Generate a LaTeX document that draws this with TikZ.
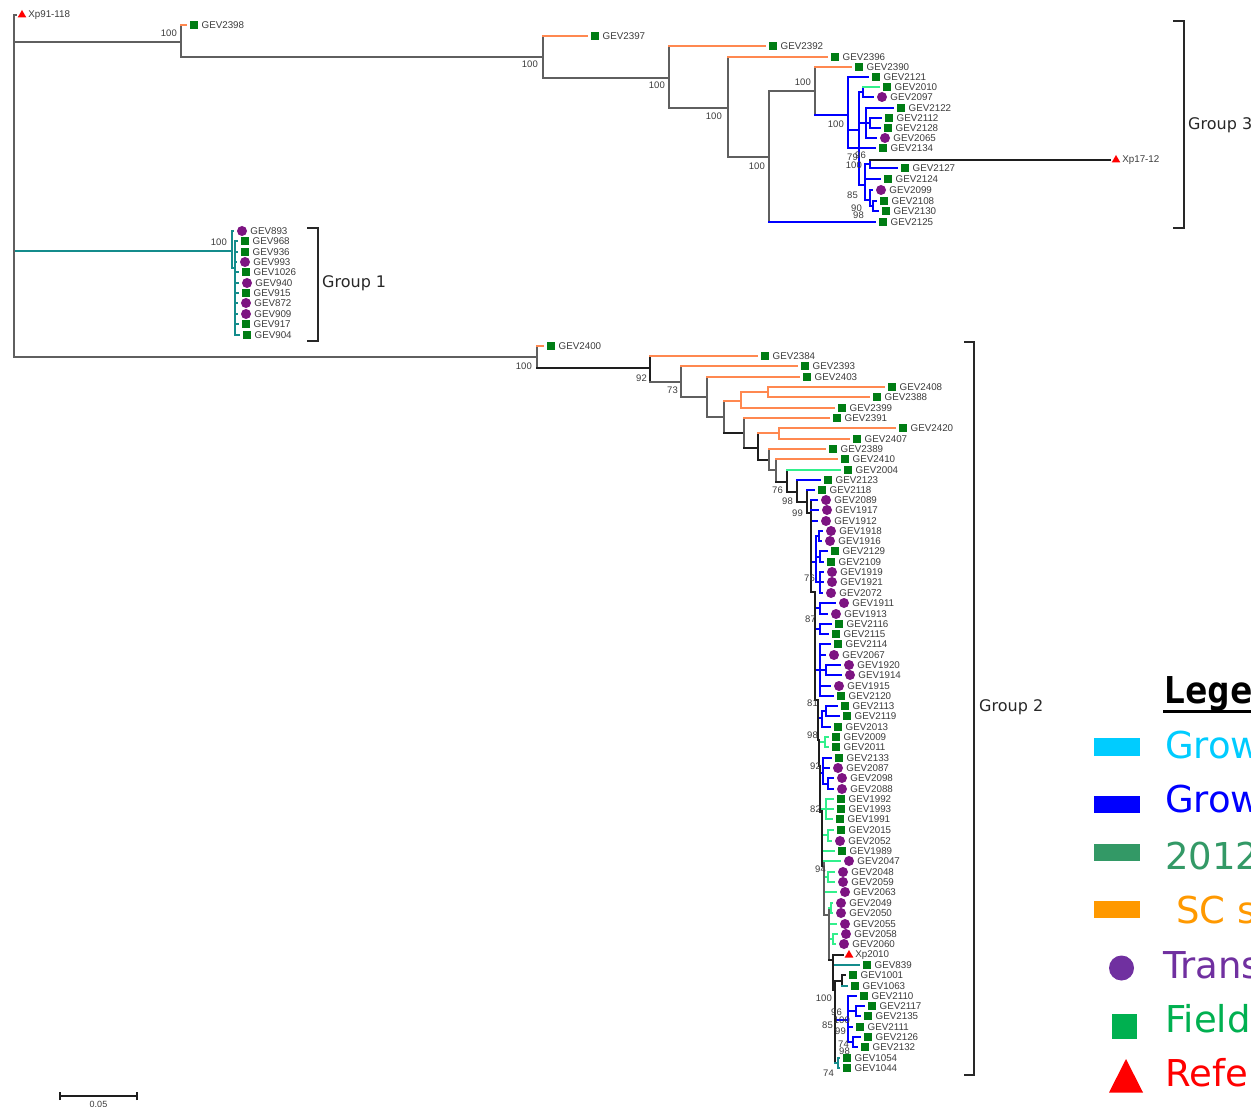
\documentclass[tikz,border=0pt]{standalone}
\usepackage{fontspec}
\setmainfont{Liberation Sans}
\newfontfamily\grpfont{DejaVu Sans}
\newfontfamily\legfont{DejaVu Sans}
\newfontfamily\legmono{DejaVu Sans Mono}
\usetikzlibrary{shapes.geometric}
\definecolor{cO}{RGB}{255,136,80}
\definecolor{cB}{RGB}{0,0,255}
\definecolor{cG}{RGB}{50,240,140}
\definecolor{cT}{RGB}{20,140,140}
\definecolor{cK}{RGB}{95,95,95}
\definecolor{cD}{RGB}{30,30,30}
\definecolor{mG}{RGB}{0,125,20}
\definecolor{mP}{RGB}{125,20,130}
\definecolor{tx}{RGB}{60,60,60}
\definecolor{tx2}{RGB}{40,40,40}
\definecolor{lCy}{RGB}{0,204,255}
\definecolor{lBl}{RGB}{0,0,255}
\definecolor{lSg}{RGB}{51,153,102}
\definecolor{lOr}{RGB}{255,153,0}
\definecolor{lPu}{RGB}{112,48,160}
\definecolor{lGr}{RGB}{0,176,80}
\definecolor{lRe}{RGB}{255,0,0}
\tikzset{
 tb/.style={line width=1.3pt, line cap=rect},
 sqm/.style={rectangle, fill=mG, minimum size=8.5pt, inner sep=0pt},
 cim/.style={circle, fill=mP, minimum size=10pt, inner sep=0pt},
 trm/.style={regular polygon, regular polygon sides=3, fill=red, minimum size=10pt, inner sep=0pt},
 lbl/.style={font=\fontsize{9.8}{10}\selectfont, text=tx, anchor=west, inner sep=0pt},
 bs/.style={font=\fontsize{9.5}{10}\selectfont, text=tx, anchor=east, inner sep=0pt},
 grp/.style={font=\grpfont\fontsize{16}{18}\selectfont, text=tx2, anchor=west, inner sep=0pt},
 brk/.style={line width=1.8pt, draw=tx2},
 leg/.style={font=\legfont\fontsize{37}{40}\selectfont, anchor=base west, inner sep=0pt},
 legbar/.style={rectangle, minimum width=46pt, minimum height=17.5pt, inner sep=0pt},
 thk/.style={line width=2.6pt},
}
\newcommand\tleaf[5]{%
 \node[#4] (#1) at (#2,#3) {};
 \node[lbl] (#1t) at ([xshift=3pt]#1.east) {#5};
 \coordinate (#1e) at ([xshift=-3pt]#1.west);}
\newcommand\tbranch[4]{%
 \draw[tb,#1] (#3) -- (#3 |- #4);
 \draw[tb,#2] (#3 |- #4) -- (#4);}
\newcommand\bsv[4]{\node[bs] (#1) at (#2,#3) {#4};}
\begin{document}
\begin{tikzpicture}[x=1pt,y=-1pt]
\useasboundingbox (0,0) rectangle (1251,1107);
\clip (0,0) rectangle (1251,1107);
\fill[white] (0,0) rectangle (1251,1107);
% ---------------- root and Group 3 ----------------
\coordinate (R) at (14,200);
\tleaf{xp91}{22}{15}{trm}{Xp91-118}
\tbranch{cK}{cK}{R}{xp91e}
\coordinate (A) at (181,42); \tbranch{cK}{cK}{R}{A}
\tleaf{g2398}{194}{25}{sqm}{GEV2398} \tbranch{cK}{cO}{A}{g2398e}
\coordinate (B) at (543,57); \tbranch{cK}{cK}{A}{B}
\tleaf{g2397}{595}{36}{sqm}{GEV2397} \tbranch{cK}{cO}{B}{g2397e}
\coordinate (C) at (669,78); \tbranch{cK}{cK}{B}{C}
\tleaf{g2392}{773}{46}{sqm}{GEV2392} \tbranch{cK}{cO}{C}{g2392e}
\coordinate (D) at (728,108); \tbranch{cK}{cK}{C}{D}
\tleaf{g2396}{835}{57}{sqm}{GEV2396} \tbranch{cK}{cO}{D}{g2396e}
\coordinate (E) at (769,157); \tbranch{cK}{cK}{D}{E}
\coordinate (F) at (815,91); \tbranch{cK}{cK}{E}{F}
\tleaf{g2125}{883}{222}{sqm}{GEV2125} \tbranch{cK}{cB}{E}{g2125e}
\tleaf{g2390}{859}{67}{sqm}{GEV2390} \tbranch{cK}{cO}{F}{g2390e}
\coordinate (G) at (848,115); \tbranch{cK}{cB}{F}{G}
\tleaf{g2121}{876}{77}{sqm}{GEV2121} \tbranch{cB}{cB}{G}{g2121e}
\tleaf{g2134}{883}{148}{sqm}{GEV2134} \tbranch{cB}{cB}{G}{g2134e}
\coordinate (H) at (859,130); \tbranch{cB}{cB}{G}{H}
\coordinate (I) at (863,92); \tbranch{cB}{cB}{H}{I}
\tleaf{g2010}{887}{87}{sqm}{GEV2010} \tbranch{cB}{cG}{I}{g2010e}
\tleaf{g2097}{882}{97}{cim}{GEV2097} \tbranch{cB}{cB}{I}{g2097e}
\coordinate (J) at (866,123); \tbranch{cB}{cB}{H}{J}
\tleaf{g2122}{901}{108}{sqm}{GEV2122} \tbranch{cB}{cB}{J}{g2122e}
\coordinate (Q) at (870,123); \tbranch{cB}{cB}{J}{Q}
\tleaf{g2112}{889}{118}{sqm}{GEV2112} \tbranch{cB}{cB}{Q}{g2112e}
\tleaf{g2128}{888}{128}{sqm}{GEV2128} \tbranch{cB}{cB}{Q}{g2128e}
\tleaf{g2065}{885}{138}{cim}{GEV2065} \tbranch{cB}{cB}{J}{g2065e}
\coordinate (L) at (865,185); \tbranch{cB}{cB}{H}{L}
\coordinate (M) at (870,164); \tbranch{cB}{cB}{L}{M}
\tleaf{xp1712}{1116}{160}{trm}{Xp17-12} \tbranch{cB}{cD}{M}{xp1712e}
\tleaf{g2127}{905}{168}{sqm}{GEV2127} \tbranch{cB}{cB}{M}{g2127e}
\tleaf{g2124}{888}{179}{sqm}{GEV2124} \tbranch{cB}{cB}{L}{g2124e}
\coordinate (N) at (870,200); \tbranch{cB}{cB}{L}{N}
\tleaf{g2099}{881}{190}{cim}{GEV2099} \tbranch{cB}{cB}{N}{g2099e}
\coordinate (O) at (873,206); \tbranch{cB}{cB}{N}{O}
\tleaf{g2108}{884}{201}{sqm}{GEV2108} \tbranch{cB}{cB}{O}{g2108e}
\tleaf{g2130}{886}{211}{sqm}{GEV2130} \tbranch{cB}{cB}{O}{g2130e}
\bsv{bA}{177}{33}{100}
\bsv{bB}{538}{64}{100}
\bsv{bC}{665}{85}{100}
\bsv{bD}{722}{116}{100}
\bsv{bE}{765}{166}{100}
\bsv{bF}{811}{82}{100}
\bsv{bG}{844}{124}{100}
\bsv{bH1}{858}{157}{79}
\bsv{bH2}{866}{155}{96}
\bsv{bH3}{862}{165}{100}
\bsv{bN}{858}{195}{85}
\bsv{bO1}{862}{208}{90}
\bsv{bO2}{864}{215}{98}
% ---------------- Group 1 ----------------
\coordinate (T1) at (232,251); \tbranch{cK}{cT}{R}{T1}
\tleaf{g893}{242}{231}{cim}{GEV893} \tbranch{cT}{cT}{T1}{g893e}
\coordinate (T2) at (235,268); \tbranch{cT}{cT}{T1}{T2}
\tleaf{g968}{245}{241}{sqm}{GEV968} \tbranch{cT}{cT}{T2}{g968e}
\tleaf{g936}{245}{252}{sqm}{GEV936} \tbranch{cT}{cT}{T2}{g936e}
\tleaf{g993}{245}{262}{cim}{GEV993} \tbranch{cT}{cT}{T2}{g993e}
\tleaf{g1026}{246}{272}{sqm}{GEV1026} \tbranch{cT}{cT}{T2}{g1026e}
\tleaf{g940}{247}{283}{cim}{GEV940} \tbranch{cT}{cT}{T2}{g940e}
\tleaf{g915}{246}{293}{sqm}{GEV915} \tbranch{cT}{cT}{T2}{g915e}
\tleaf{g872}{246}{303}{cim}{GEV872} \tbranch{cT}{cT}{T2}{g872e}
\tleaf{g909}{246}{314}{cim}{GEV909} \tbranch{cT}{cT}{T2}{g909e}
\tleaf{g917}{246}{324}{sqm}{GEV917} \tbranch{cT}{cT}{T2}{g917e}
\tleaf{g904}{247}{335}{sqm}{GEV904} \tbranch{cT}{cT}{T2}{g904e}
\bsv{bT1}{227}{242}{100}
% ---------------- Group 2 ----------------
\coordinate (U0) at (537,357); \tbranch{cK}{cK}{R}{U0}
\tleaf{g2400}{551}{346}{sqm}{GEV2400} \tbranch{cK}{cO}{U0}{g2400e}
\coordinate (U1) at (650,368); \tbranch{cK}{cD}{U0}{U1}
\tleaf{g2384}{765}{356}{sqm}{GEV2384} \tbranch{cD}{cO}{U1}{g2384e}
\coordinate (U2) at (681,382); \tbranch{cD}{cK}{U1}{U2}
\tleaf{g2393}{805}{366}{sqm}{GEV2393} \tbranch{cK}{cO}{U2}{g2393e}
\coordinate (U3) at (707,397); \tbranch{cK}{cK}{U2}{U3}
\tleaf{g2403}{807}{377}{sqm}{GEV2403} \tbranch{cK}{cO}{U3}{g2403e}
\coordinate (U4) at (724,417); \tbranch{cK}{cK}{U3}{U4}
\coordinate (U5) at (741,401); \tbranch{cK}{cO}{U4}{U5}
\coordinate (U5a) at (768,392); \tbranch{cO}{cO}{U5}{U5a}
\tleaf{g2408}{892}{387}{sqm}{GEV2408} \tbranch{cO}{cO}{U5a}{g2408e}
\tleaf{g2388}{877}{397}{sqm}{GEV2388} \tbranch{cO}{cO}{U5a}{g2388e}
\tleaf{g2399}{842}{408}{sqm}{GEV2399} \tbranch{cO}{cO}{U5}{g2399e}
\coordinate (U6) at (744,433); \tbranch{cK}{cD}{U4}{U6}
\tleaf{g2391}{837}{418}{sqm}{GEV2391} \tbranch{cK}{cO}{U6}{g2391e}
\coordinate (U7) at (758,448); \tbranch{cK}{cD}{U6}{U7}
\coordinate (U8) at (779,433); \tbranch{cD}{cO}{U7}{U8}
\tleaf{g2420}{903}{428}{sqm}{GEV2420} \tbranch{cO}{cO}{U8}{g2420e}
\tleaf{g2407}{857}{439}{sqm}{GEV2407} \tbranch{cO}{cO}{U8}{g2407e}
\coordinate (U9) at (769,460); \tbranch{cD}{cD}{U7}{U9}
\tleaf{g2389}{833}{449}{sqm}{GEV2389} \tbranch{cK}{cO}{U9}{g2389e}
\coordinate (U10) at (776,470); \tbranch{cK}{cK}{U9}{U10}
\tleaf{g2410}{845}{459}{sqm}{GEV2410} \tbranch{cK}{cO}{U10}{g2410e}
\coordinate (U11) at (787,482); \tbranch{cK}{cD}{U10}{U11}
\tleaf{g2004}{848}{470}{sqm}{GEV2004} \tbranch{cD}{cG}{U11}{g2004e}
\coordinate (U12) at (797,492); \tbranch{cD}{cD}{U11}{U12}
\tleaf{g2123}{828}{480}{sqm}{GEV2123} \tbranch{cD}{cB}{U12}{g2123e}
\coordinate (U13) at (807,502); \tbranch{cD}{cD}{U12}{U13}
\tleaf{g2118}{822}{490}{sqm}{GEV2118} \tbranch{cD}{cB}{U13}{g2118e}
\coordinate (S1) at (811,513); \tbranch{cD}{cD}{U13}{S1}
\bsv{bU0}{532}{366}{100}
\bsv{bU1}{647}{378}{92}
\bsv{bU2}{678}{390}{73}
\bsv{bU11}{783}{490}{76}
\bsv{bU12}{793}{501}{98}
\bsv{bU13}{803}{513}{99}
% spine S1
\tleaf{g2089}{826}{500}{cim}{GEV2089} \tbranch{cD}{cB}{S1}{g2089e}
\tleaf{g1917}{827}{510}{cim}{GEV1917} \tbranch{cD}{cB}{S1}{g1917e}
\tleaf{g1912}{826}{521}{cim}{GEV1912} \tbranch{cD}{cB}{S1}{g1912e}
\coordinate (B1) at (816,562); \tbranch{cD}{cB}{S1}{B1}
\coordinate (B1a) at (819,536); \tbranch{cB}{cB}{B1}{B1a}
\tleaf{g1918}{831}{531}{cim}{GEV1918} \tbranch{cB}{cB}{B1a}{g1918e}
\tleaf{g1916}{830}{541}{cim}{GEV1916} \tbranch{cB}{cB}{B1a}{g1916e}
\coordinate (B1b) at (820,557); \tbranch{cB}{cB}{B1}{B1b}
\tleaf{g2129}{835}{551}{sqm}{GEV2129} \tbranch{cB}{cB}{B1b}{g2129e}
\tleaf{g2109}{831}{562}{sqm}{GEV2109} \tbranch{cB}{cB}{B1b}{g2109e}
\coordinate (B1c) at (820,582); \tbranch{cB}{cB}{B1}{B1c}
\tleaf{g1919}{832}{572}{cim}{GEV1919} \tbranch{cB}{cB}{B1c}{g1919e}
\tleaf{g1921}{832}{582}{cim}{GEV1921} \tbranch{cB}{cB}{B1c}{g1921e}
\tleaf{g2072}{831}{593}{cim}{GEV2072} \tbranch{cB}{cB}{B1c}{g2072e}
\coordinate (S2) at (815,592); \tbranch{cD}{cD}{S1}{S2}
\bsv{bS1}{815}{578}{76}
% spine S2
\coordinate (C2) at (820,608); \tbranch{cD}{cB}{S2}{C2}
\tleaf{g1911}{844}{603}{cim}{GEV1911} \tbranch{cB}{cB}{C2}{g1911e}
\tleaf{g1913}{836}{614}{cim}{GEV1913} \tbranch{cB}{cB}{C2}{g1913e}
\coordinate (C3) at (820,629); \tbranch{cD}{cB}{S2}{C3}
\tleaf{g2116}{839}{624}{sqm}{GEV2116} \tbranch{cB}{cB}{C3}{g2116e}
\tleaf{g2115}{836}{634}{sqm}{GEV2115} \tbranch{cB}{cB}{C3}{g2115e}
\coordinate (C4) at (820,670); \tbranch{cD}{cB}{S2}{C4}
\tleaf{g2114}{838}{644}{sqm}{GEV2114} \tbranch{cB}{cB}{C4}{g2114e}
\tleaf{g2067}{834}{655}{cim}{GEV2067} \tbranch{cB}{cB}{C4}{g2067e}
\coordinate (C4a) at (826,670); \tbranch{cB}{cB}{C4}{C4a}
\tleaf{g1920}{849}{665}{cim}{GEV1920} \tbranch{cB}{cB}{C4a}{g1920e}
\tleaf{g1914}{850}{675}{cim}{GEV1914} \tbranch{cB}{cB}{C4a}{g1914e}
\tleaf{g1915}{839}{686}{cim}{GEV1915} \tbranch{cB}{cB}{C4}{g1915e}
\tleaf{g2120}{841}{696}{sqm}{GEV2120} \tbranch{cB}{cB}{C4}{g2120e}
\coordinate (S3) at (818,700); \tbranch{cD}{cD}{S2}{S3}
\bsv{bS2}{816}{619}{87}
% spine S3
\coordinate (C5) at (822,718); \tbranch{cD}{cB}{S3}{C5}
\coordinate (C5a) at (826,711); \tbranch{cB}{cB}{C5}{C5a}
\tleaf{g2113}{845}{706}{sqm}{GEV2113} \tbranch{cB}{cB}{C5a}{g2113e}
\tleaf{g2119}{847}{716}{sqm}{GEV2119} \tbranch{cB}{cB}{C5a}{g2119e}
\tleaf{g2013}{838}{727}{sqm}{GEV2013} \tbranch{cB}{cB}{C5}{g2013e}
\coordinate (S4) at (819,740); \tbranch{cD}{cD}{S3}{S4}
\bsv{bS3}{818}{703}{81}
% spine S4
\coordinate (C6) at (825,742); \tbranch{cD}{cG}{S4}{C6}
\tleaf{g2009}{836}{737}{sqm}{GEV2009} \tbranch{cG}{cG}{C6}{g2009e}
\tleaf{g2011}{836}{747}{sqm}{GEV2011} \tbranch{cG}{cG}{C6}{g2011e}
\coordinate (S5) at (820,766); \tbranch{cD}{cD}{S4}{S5}
\bsv{bS4}{818}{735}{98}
% spine S5
\coordinate (C7) at (823,773); \tbranch{cD}{cB}{S5}{C7}
\tleaf{g2133}{839}{758}{sqm}{GEV2133} \tbranch{cB}{cB}{C7}{g2133e}
\tleaf{g2087}{838}{768}{cim}{GEV2087} \tbranch{cB}{cB}{C7}{g2087e}
\coordinate (C7a) at (828,784); \tbranch{cB}{cB}{C7}{C7a}
\tleaf{g2098}{842}{778}{cim}{GEV2098} \tbranch{cB}{cB}{C7a}{g2098e}
\tleaf{g2088}{842}{789}{cim}{GEV2088} \tbranch{cB}{cB}{C7a}{g2088e}
\coordinate (S6) at (822,812); \tbranch{cD}{cD}{S5}{S6}
\bsv{bS5}{821}{766}{92}
% spine S6
\coordinate (C8) at (826,809); \tbranch{cD}{cG}{S6}{C8}
\tleaf{g1992}{841}{799}{sqm}{GEV1992} \tbranch{cG}{cG}{C8}{g1992e}
\tleaf{g1993}{841}{809}{sqm}{GEV1993} \tbranch{cG}{cG}{C8}{g1993e}
\tleaf{g1991}{840}{819}{sqm}{GEV1991} \tbranch{cG}{cG}{C8}{g1991e}
\coordinate (C9) at (828,835); \tbranch{cD}{cG}{S6}{C9}
\tleaf{g2015}{841}{830}{sqm}{GEV2015} \tbranch{cG}{cG}{C9}{g2015e}
\tleaf{g2052}{840}{841}{cim}{GEV2052} \tbranch{cG}{cG}{C9}{g2052e}
\tleaf{g1989}{842}{851}{sqm}{GEV1989} \tbranch{cD}{cG}{S6}{g1989e}
\coordinate (S7) at (824,866); \tbranch{cD}{cD}{S6}{S7}
\bsv{bS6}{821}{809}{82}
% spine S7
\tleaf{g2047}{849}{861}{cim}{GEV2047} \tbranch{cK}{cG}{S7}{g2047e}
\coordinate (C10) at (828,877); \tbranch{cK}{cG}{S7}{C10}
\tleaf{g2048}{843}{872}{cim}{GEV2048} \tbranch{cG}{cG}{C10}{g2048e}
\tleaf{g2059}{843}{882}{cim}{GEV2059} \tbranch{cG}{cG}{C10}{g2059e}
\tleaf{g2063}{845}{892}{cim}{GEV2063} \tbranch{cK}{cG}{S7}{g2063e}
\coordinate (S8) at (829,915); \tbranch{cK}{cK}{S7}{S8}
\bsv{bS7}{826}{869}{94}
% spine S8
\coordinate (C11) at (831,908); \tbranch{cK}{cG}{S8}{C11}
\tleaf{g2049}{841}{903}{cim}{GEV2049} \tbranch{cG}{cG}{C11}{g2049e}
\tleaf{g2050}{841}{913}{cim}{GEV2050} \tbranch{cG}{cG}{C11}{g2050e}
\tleaf{g2055}{845}{924}{cim}{GEV2055} \tbranch{cK}{cG}{S8}{g2055e}
\coordinate (C12) at (833,939); \tbranch{cK}{cG}{S8}{C12}
\tleaf{g2058}{846}{934}{cim}{GEV2058} \tbranch{cG}{cG}{C12}{g2058e}
\tleaf{g2060}{844}{944}{cim}{GEV2060} \tbranch{cG}{cG}{C12}{g2060e}
\coordinate (S9) at (833,960); \tbranch{cK}{cD}{S8}{S9}
% spine S9
\tleaf{xp2010}{849}{955}{trm}{Xp2010} \tbranch{cD,thk}{cD}{S9}{xp2010e}
\tleaf{g839}{867}{965}{sqm}{GEV839} \tbranch{cD,thk}{cT}{S9}{g839e}
\coordinate (S10) at (835,990); \tbranch{cD,thk}{cD}{S9}{S10}
% spine S10
\coordinate (S11) at (842,981); \tbranch{cD}{cD}{S10}{S11}
\tleaf{g1001}{853}{975}{sqm}{GEV1001} \tbranch{cD}{cD}{S11}{g1001e}
\tleaf{g1063}{855}{986}{sqm}{GEV1063} \tbranch{cD}{cT}{S11}{g1063e}
\coordinate (C13) at (848,1020); \tbranch{cD}{cB}{S10}{C13}
\tleaf{g2110}{864}{996}{sqm}{GEV2110} \tbranch{cB}{cB}{C13}{g2110e}
\coordinate (C13a) at (856,1011); \tbranch{cB}{cB}{C13}{C13a}
\tleaf{g2117}{872}{1006}{sqm}{GEV2117} \tbranch{cB}{cB}{C13a}{g2117e}
\tleaf{g2135}{868}{1016}{sqm}{GEV2135} \tbranch{cB}{cB}{C13a}{g2135e}
\tleaf{g2111}{860}{1027}{sqm}{GEV2111} \tbranch{cB}{cB}{C13}{g2111e}
\coordinate (C13b) at (853,1042); \tbranch{cB}{cB}{C13}{C13b}
\tleaf{g2126}{868}{1037}{sqm}{GEV2126} \tbranch{cB}{cB}{C13b}{g2126e}
\tleaf{g2132}{865}{1047}{sqm}{GEV2132} \tbranch{cB}{cB}{C13b}{g2132e}
\coordinate (S12) at (838,1063); \tbranch{cD}{cT}{S10}{S12}
\tleaf{g1054}{847}{1058}{sqm}{GEV1054} \tbranch{cT}{cT}{S12}{g1054e}
\tleaf{g1044}{847}{1068}{sqm}{GEV1044} \tbranch{cT}{cT}{S12}{g1044e}
\bsv{bS10}{832}{998}{100}
\bsv{bC13a}{842}{1012}{96}
\bsv{bC13}{850}{1020}{100}
\bsv{bS10b}{833}{1025}{85}
\bsv{bC13c}{846}{1031}{99}
\bsv{bC13b}{849}{1044}{74}
\bsv{bC13d}{850}{1051}{98}
\bsv{bS12}{834}{1073}{74}
% ---------------- group brackets ----------------
\draw[brk] (1173,21) -- (1184,21) -- (1184,228) -- (1173,228);
\node[grp] (grp3) at (1188,125) {Group 3};
\draw[brk] (307,228) -- (318,228) -- (318,341) -- (307,341);
\node[grp] (grp1) at (322,283) {Group 1};
\draw[brk] (964,342) -- (974,342) -- (974,1075) -- (964,1075);
\node[grp] (grp2) at (979,707) {Group 2};
% ---------------- scale bar ----------------
\coordinate (sbL) at (60,1096);
\coordinate (sbR) at (137,1096);
\draw[line width=1.4pt, cD] (sbL) -- (sbR);
\draw[line width=1.4pt, cD] ([yshift=-4pt]sbL) -- ([yshift=4pt]sbL);
\draw[line width=1.4pt, cD] ([yshift=-4pt]sbR) -- ([yshift=4pt]sbR);
\node[font=\fontsize{9}{10}\selectfont, text=tx, anchor=north, inner sep=0pt] (sbt) at (98.5,1101) {0.05};
% ---------------- legend ----------------
\node[font=\legmono\bfseries\fontsize{37}{40}\selectfont, anchor=base west, inner sep=0pt] (legT) at (1163,703) {Lege};
\draw[line width=3pt] (1163,711.5) -- (1251,711.5);
\node[legbar, fill=lCy] (lb1) at (1117,747) {};
\node[legbar, fill=lBl] (lb2) at (1117,804.5) {};
\node[legbar, fill=lSg] (lb3) at (1117,852.5) {};
\node[legbar, fill=lOr] (lb4) at (1117,909.5) {};
\node[circle, fill=lPu, minimum size=25pt, inner sep=0pt] (lb5) at (1121.5,968) {};
\node[rectangle, fill=lGr, minimum size=25pt, inner sep=0pt] (lb6) at (1124.5,1026) {};
\fill[lRe] (1109,1092.5) -- (1126,1059) -- (1143,1092.5) -- cycle;
\node[leg, text=lCy] (lt1) at (1165,758) {Grow};
\node[leg, text=lBl] (lt2) at (1165,812.5) {Grow};
\node[leg, text=lSg] (lt3) at (1165,869) {2012};
\node[leg, text=lOr] (lt4) at (1176,923) {SC s};
\node[leg, text=lPu] (lt5) at (1163,978) {Trans};
\node[leg, text=lGr] (lt6) at (1165,1032) {Field};
\node[leg, text=lRe] (lt7) at (1165,1086.5) {Refe};
\end{tikzpicture}
\end{document}
